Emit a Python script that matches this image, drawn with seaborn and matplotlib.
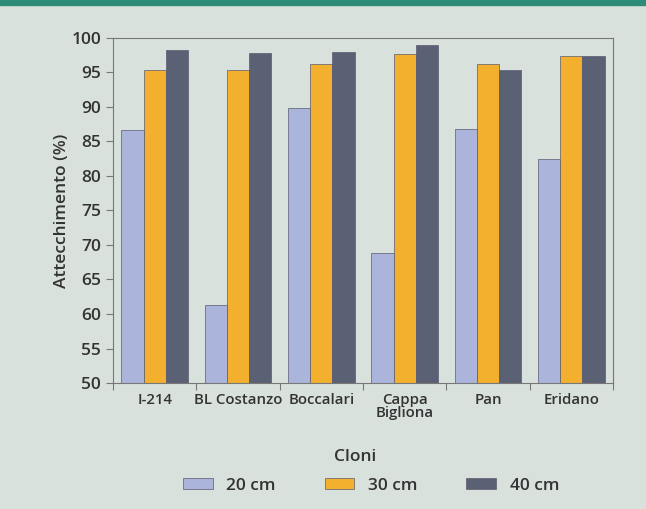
import numpy as np
import pandas as pd
import matplotlib.pyplot as plt
import seaborn as sns

cloni = ['I-214', 'BL Costanzo', 'Boccalari', 'Cappa\nBigliona', 'Pan', 'Eridano']
h20 = [86.7, 61.3, 89.9, 68.8, 86.8, 82.5]
h30 = [95.4, 95.3, 96.2, 97.7, 96.2, 97.4]
h40 = [98.3, 97.8, 98.0, 99.0, 95.4, 97.4]
serie = ['20 cm', '30 cm', '40 cm']
colori = ['#abb5dc', '#f2b02e', '#5b6174']

df = pd.DataFrame({
    'Cloni': cloni * 3,
    'valore': h20 + h30 + h40,
    'serie': [s for s in serie for _ in cloni],
})

sns.set_style('ticks')
plt.rcParams['font.family'] = ['Open Sans', 'DejaVu Sans']
plt.rcParams['font.weight'] = 'semibold'
bg = '#d9e1dc'
testo = '#333333'

fig = plt.figure(figsize=(6.46, 5.09), dpi=100, facecolor=bg)
ax = fig.add_axes([0.175, 0.2475, 0.774, 0.678])
ax.set_facecolor(bg)

sns.barplot(data=df, x='Cloni', y='valore', hue='serie', palette=colori, saturation=1,
            width=0.8, edgecolor='#5a5a70', linewidth=0.5, ax=ax, legend=True)

ax.set_ylim(50, 100)
ax.set_yticks(range(50, 101, 5))
ax.set_xlim(-0.5, len(cloni) - 0.5)
ax.set_xticks(np.arange(-0.5, len(cloni), 1.0), minor=False)
ax.set_xticklabels([])
ax.set_xticks(range(len(cloni)), minor=True)
ax.set_xticklabels(cloni, minor=True, fontsize=10.8, color=testo, linespacing=0.95)
ax.tick_params(axis='x', which='minor', length=0, pad=7)
ax.tick_params(axis='x', which='major', length=5, color='#777777')
ax.tick_params(axis='y', labelsize=12.5, labelcolor=testo, length=5, color='#777777')
for s in ax.spines.values():
    s.set_color('#777777')
    s.set_linewidth(0.8)

ax.set_ylabel('Attecchimento (%)', fontsize=12.5, color=testo, fontweight='semibold', labelpad=1)
ax.set_xlabel('Cloni', fontsize=12.5, color=testo, fontweight='semibold')
ax.xaxis.set_label_coords(0.485, -0.19)

leg = ax.legend(loc='upper center', bbox_to_anchor=(0.516, -0.23), ncol=3, frameon=False,
                fontsize=12.5, handlelength=1.7, handleheight=0.6, columnspacing=2.8,
                labelcolor=testo)
for t in leg.get_texts():
    t.set_fontweight('semibold')

fig.patches.append(plt.Rectangle((0, 0.99), 1, 0.01, transform=fig.transFigure,
                                 color='#2e8b78', zorder=5))

fig.savefig('out.png', dpi=100, facecolor=bg)
